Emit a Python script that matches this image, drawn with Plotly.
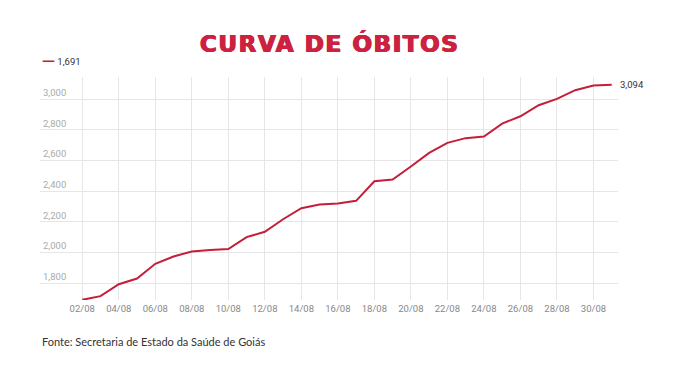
import plotly.graph_objects as go

dates = ["02/08", "03/08", "04/08", "05/08", "06/08", "07/08", "08/08", "09/08", "10/08",
         "11/08", "12/08", "13/08", "14/08", "15/08", "16/08", "17/08", "18/08", "19/08",
         "20/08", "21/08", "22/08", "23/08", "24/08", "25/08", "26/08", "27/08", "28/08",
         "29/08", "30/08", "31/08"]
deaths = [1691, 1715, 1793, 1830, 1926, 1974, 2007, 2017, 2022,
          2100, 2135, 2217, 2289, 2313, 2320, 2337, 2465, 2476,
          2561, 2650, 2715, 2746, 2757, 2841, 2889, 2961, 3002,
          3059, 3089, 3094]
y_ticks = [1800, 2000, 2200, 2400, 2600, 2800, 3000]
x_ticks = dates[::2]

RED = "#c41e3a"
TITLE_RED = "#cc2240"

fig = go.Figure()
fig.add_trace(go.Scatter(
    x=dates, y=deaths, mode="lines",
    line=dict(color=RED, width=2),
    name=f"{deaths[0]:,}", showlegend=False,
    hoverinfo="skip",
))

# end-of-line value label
fig.add_annotation(
    x=dates[-1], y=deaths[-1], text=f"{deaths[-1]:,}",
    xanchor="left", yanchor="middle", xshift=6, showarrow=False,
    font=dict(family="Roboto", size=9.5, color="#333333"),
)

# legend-like label
fig.add_annotation(
    xref="paper", yref="paper", x=0, y=1.076, xanchor="left", yanchor="middle",
    text=f"<span style='color:{RED};font-family:DejaVu Sans;font-size:13px'><b>—</b></span> {deaths[0]:,}",
    showarrow=False, font=dict(family="Roboto", size=9.5, color="#333333"),
)

# source
fig.add_annotation(
    xref="paper", yref="paper", x=0, y=-0.184, xanchor="left", yanchor="middle",
    text="Fonte: Secretaria de Estado da Saúde de Goiás",
    showarrow=False, font=dict(family="Lato", size=11, color="#333333"),
)

fig.update_layout(
    width=700, height=370,
    margin=dict(l=40, r=82, t=77, b=70),
    paper_bgcolor="white", plot_bgcolor="white",
    title=dict(
        text="<span style='letter-spacing:1.6px'>CURVA DE ÓBITOS</span>",
        x=0.471, xanchor="center",
        y=1 - 44 / 370, yanchor="middle", yref="container",
        font=dict(family="DejaVu Sans", size=23, color=TITLE_RED, weight=900,
                  shadow=f"0.7px 0 0 {TITLE_RED}, -0.7px 0 0 {TITLE_RED}, 0 0.4px 0 {TITLE_RED}"),
    ),
    xaxis=dict(
        type="category", range=[-2.315, len(dates) - 1 + 0.345],
        tickvals=x_ticks, ticktext=x_ticks,
        showgrid=True, gridcolor="#e6e6e6", gridwidth=1,
        showline=False, zeroline=False, ticks="",
        tickfont=dict(family="Roboto", size=9.5, color="#888888"),
        ticklabelstandoff=1,
    ),
    yaxis=dict(
        range=[1690, 3145], tickvals=y_ticks, tickformat=",",
        showgrid=True, gridcolor="#e6e6e6", gridwidth=1,
        showline=False, zeroline=False, ticks="",
        ticklabelposition="inside top",
        tickfont=dict(family="Roboto", size=9.5, color="#aaaaaa"),
    ),
)

fig.write_html("out.html")
